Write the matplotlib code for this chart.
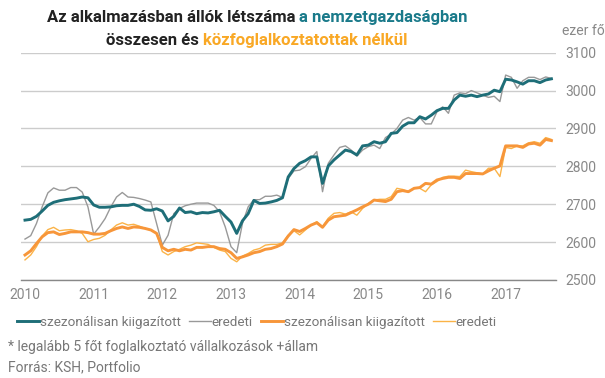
import matplotlib
matplotlib.use("Agg")
import matplotlib.pyplot as plt
from matplotlib.offsetbox import TextArea, HPacker, AnchoredOffsetbox
from matplotlib.lines import Line2D

plt.rcParams['font.family'] = ['Roboto', 'DejaVu Sans']

# havi adatok, 2010 jan - 2017 szept (ezer fő)
years = ['2010', '2011', '2012', '2013', '2014', '2015', '2016', '2017']

teal_sa = [2658, 2660, 2668, 2682, 2697, 2705, 2709, 2712, 2714, 2716, 2719, 2717,
           2698, 2692, 2692, 2693, 2696, 2697, 2697, 2700, 2694, 2685, 2684, 2688,
           2682, 2656, 2668, 2690, 2678, 2680, 2675, 2678, 2677, 2680, 2684, 2668,
           2653, 2623, 2656, 2675, 2710, 2702, 2703, 2706, 2710, 2717, 2772, 2794,
           2808, 2815, 2825, 2825, 2755, 2801, 2817, 2830, 2843, 2839, 2830, 2854,
           2856, 2865, 2861, 2865, 2887, 2889, 2906, 2915, 2915, 2931, 2925, 2935,
           2947, 2953, 2953, 2975, 2988, 2985, 2988, 2984, 2988, 2991, 3001, 2997,
           3030, 3028, 3023, 3017, 3026, 3026, 3021, 3028, 3031]

teal_orig = [2608, 2617, 2649, 2693, 2730, 2743, 2737, 2737, 2744, 2744, 2732, 2693,
             2621, 2640, 2662, 2693, 2719, 2731, 2719, 2718, 2715, 2711, 2706, 2649,
             2592, 2618, 2675, 2689, 2696, 2700, 2703, 2703, 2703, 2697, 2680, 2640,
             2588, 2572, 2649, 2693, 2712, 2712, 2721, 2721, 2724, 2718, 2768, 2788,
             2790, 2799, 2821, 2839, 2733, 2808, 2830, 2850, 2854, 2843, 2827, 2843,
             2852, 2856, 2847, 2876, 2885, 2900, 2922, 2929, 2922, 2929, 2912, 2912,
             2944, 2957, 2940, 2988, 2994, 2992, 3000, 2994, 2988, 2982, 2985, 2971,
             3041, 3035, 3006, 3026, 3035, 3035, 3029, 3036, 3032]

orange_sa = [2566, 2577, 2596, 2614, 2625, 2627, 2620, 2623, 2627, 2627, 2627, 2625,
             2621, 2621, 2623, 2630, 2636, 2640, 2636, 2640, 2639, 2636, 2632, 2623,
             2586, 2577, 2581, 2577, 2581, 2579, 2586, 2586, 2588, 2588, 2583, 2581,
             2572, 2557, 2561, 2566, 2572, 2575, 2581, 2583, 2588, 2595, 2616, 2633,
             2628, 2636, 2645, 2651, 2639, 2658, 2667, 2669, 2671, 2678, 2685, 2693,
             2700, 2711, 2709, 2707, 2713, 2733, 2736, 2733, 2742, 2744, 2755, 2753,
             2764, 2768, 2771, 2771, 2768, 2781, 2781, 2781, 2780, 2788, 2795, 2801,
             2854, 2854, 2854, 2850, 2859, 2861, 2856, 2871, 2868]

orange_orig = [2553, 2566, 2588, 2616, 2633, 2639, 2630, 2632, 2633, 2630, 2623, 2601,
               2607, 2610, 2618, 2632, 2645, 2651, 2645, 2647, 2642, 2636, 2632, 2623,
               2575, 2566, 2575, 2581, 2588, 2592, 2598, 2596, 2594, 2586, 2579, 2575,
               2557, 2548, 2563, 2570, 2579, 2583, 2592, 2594, 2594, 2598, 2618, 2630,
               2619, 2632, 2645, 2654, 2641, 2663, 2676, 2678, 2674, 2680, 2671, 2689,
               2702, 2711, 2713, 2713, 2720, 2742, 2739, 2733, 2742, 2742, 2733, 2751,
               2760, 2771, 2774, 2774, 2773, 2790, 2786, 2783, 2780, 2795, 2795, 2773,
               2850, 2847, 2854, 2854, 2862, 2865, 2861, 2876, 2871]

legend_labels = ['szezonálisan kiigazított', 'eredeti', 'szezonálisan kiigazított', 'eredeti']

TEAL = '#1e6e78'
GRAY = '#999999'
ORANGE = '#f7963a'
ORANGE_LT = '#fbb347'
TXT = '#888888'

fig = plt.figure(figsize=(6.05, 3.78), dpi=100)
ax = fig.add_axes([0.0347, 0.2593, 0.8843, 0.6013])

months = list(range(len(teal_sa)))
ax.plot(months, teal_orig, color=GRAY, lw=1.0, zorder=3)
ax.plot(months, teal_sa, color=TEAL, lw=2.1, zorder=4)
ax.plot(months, orange_orig, color=ORANGE_LT, lw=1.0, zorder=3)
ax.plot(months, orange_sa, color=ORANGE, lw=2.1, zorder=4)

ax.set_xlim(-0.7, 92.8)
ax.set_ylim(2500, 3100)
ax.set_yticks(range(2500, 3101, 100))
ax.yaxis.tick_right()
ax.set_xticks(range(0, 85, 12))
ax.set_xticklabels(years)
ax.tick_params(axis='both', length=0, labelsize=10, labelcolor=TXT)
ax.tick_params(axis='y', pad=7)
ax.tick_params(axis='x', pad=6)
ax.grid(axis='y', color='#cccccc', lw=1.0, zorder=0)
for s in ['top', 'left', 'right']:
    ax.spines[s].set_visible(False)
ax.spines['bottom'].set_color('#888888')
ax.spines['bottom'].set_linewidth(1.0)

fig.text(0.964, 0.918, 'ezer fő', ha='center', va='center', fontsize=10, color=TXT)

# cím két sorban, részben színes
def title_line(parts):
    return HPacker(children=[TextArea(t, textprops=dict(color=c, fontsize=12, fontweight='bold'))
                             for t, c in parts], align='baseline', pad=0, sep=0)

line1 = title_line([('Az alkalmazásban állók létszáma ', '#222222'),
                    ('a nemzetgazdaságban', '#1a7a8a')])
line2 = title_line([('összesen és ', '#222222'),
                    ('közfoglalkoztatottak nélkül', '#f9a825')])
for box, y in [(line1, 0.953), (line2, 0.893)]:
    ab = AnchoredOffsetbox(loc='center', child=box, frameon=False, pad=0,
                           bbox_to_anchor=(0.425, y), bbox_transform=fig.transFigure)
    fig.add_artist(ab)

handles = [Line2D([], [], color=TEAL, lw=2.1),
           Line2D([], [], color=GRAY, lw=1.0),
           Line2D([], [], color=ORANGE, lw=2.1),
           Line2D([], [], color=ORANGE_LT, lw=1.0)]
leg = fig.legend(handles, legend_labels, loc='center left', bbox_to_anchor=(0.028, 0.148),
                 ncol=4, frameon=False, fontsize=9.7, handlelength=1.65, handletextpad=0.05,
                 columnspacing=0.6, borderpad=0, borderaxespad=0)
for t in leg.get_texts():
    t.set_color('#777777')

fig.text(0.014, 0.082, '* legalább 5 főt foglalkoztató vállalkozások +állam',
         fontsize=10, color='#777777', va='center')
fig.text(0.014, 0.028, 'Forrás: KSH, Portfolio', fontsize=10, color='#777777', va='center')

fig.savefig('out.png', dpi=100)
